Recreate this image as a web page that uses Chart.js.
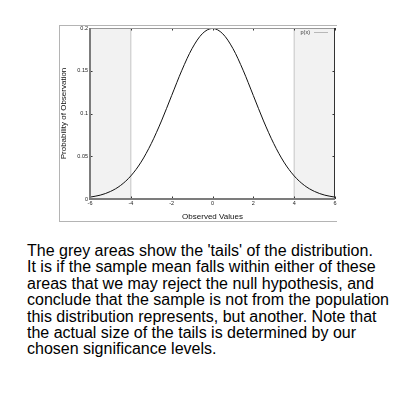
<!DOCTYPE html>
<html>
<head>
<meta charset="utf-8">
<script src="https://cdn.jsdelivr.net/npm/chart.js@4.4.1/dist/chart.umd.min.js"></script>
<style>
  body { margin: 0; background: #fff; width: 400px; height: 400px; overflow: hidden; position: relative; }
  #frame { position: absolute; left: 59px; top: 25px; width: 277px; height: 195px;
           border-left: 1px solid #b4b4b4; border-top: 1px solid #b4b4b4; border-bottom: 1px solid #b4b4b4; }
  #wrap { position: absolute; left: 0; top: 0; width: 400px; height: 230px; }
  #note { position: absolute; left: 27px; top: 243px; width: 373px; white-space: nowrap;
          font-family: "Liberation Sans", Arial, sans-serif; font-size: 16px; line-height: 16.4px; color: #000; }
</style>
</head>
<body>
<div id="frame"></div>
<div id="wrap"><canvas id="myChart"></canvas></div>
<div id="note">The grey areas show the 'tails' of the distribution.<br>It is if the sample mean falls within either of these<br>areas that we may reject the null hypothesis, and<br>conclude that the sample is not from the population<br>this distribution represents, but another. Note that<br>the actual size of the tails is determined by our<br>chosen significance levels.</div>
<script>
var xValues = [-6, -5.5, -5, -4.5, -4, -3.5, -3, -2.5, -2, -1.5, -1, -0.5, 0,
               0.5, 1, 1.5, 2, 2.5, 3, 3.5, 4, 4.5, 5, 5.5, 6];
var pValues = [0.0022, 0.0045, 0.0088, 0.0159, 0.0270, 0.0431, 0.0648, 0.0913, 0.1210, 0.1506, 0.1760, 0.1933, 0.1995,
               0.1933, 0.1760, 0.1506, 0.1210, 0.0913, 0.0648, 0.0431, 0.0270, 0.0159, 0.0088, 0.0045, 0.0022];

// tails (shaded)
var leftTail = [-6, -4];
var rightTail = [4, 6];

var xTicks = [-6, -4, -2, 0, 2, 4, 6];
var xTickLabels = ['-6', '-4', '-2', '0', '2', '4', '6'];
var yTicks = [0, 0.05, 0.1, 0.15, 0.2];
var yTickLabels = ['0', '0.05', '0.1', '0.15', '0.2'];

var yMax = 0.2;
var font = '"Liberation Sans", Arial, sans-serif';

function tailFill(t) {
	return t.map(function(v){ return {x: v, y: yMax}; });
}
function tailEdge(v) {
	return [{x: v, y: 0}, {x: v, y: yMax}];
}

// borders, inward tick marks, key
var framePlugin = {
	id: 'framePlugin',
	afterDatasetsDraw: function(chart) {
		var ctx = chart.ctx, a = chart.chartArea, x = chart.scales.x, y = chart.scales.y;
		ctx.save();
		ctx.lineWidth = 1;
		ctx.strokeStyle = '#333';
		ctx.beginPath();
		xTicks.forEach(function(v){
			var px = Math.round(x.getPixelForValue(v)) + 0.5;
			ctx.moveTo(px, a.bottom); ctx.lineTo(px, a.bottom - 2.5);
			ctx.moveTo(px, a.top); ctx.lineTo(px, a.top + 2.5);
		});
		yTicks.forEach(function(v){
			var py = Math.round(y.getPixelForValue(v)) + 0.5;
			ctx.moveTo(a.left, py); ctx.lineTo(a.left + 2.5, py);
			ctx.moveTo(a.right, py); ctx.lineTo(a.right - 2.5, py);
		});
		ctx.stroke();

		ctx.strokeStyle = '#999';
		ctx.beginPath(); ctx.moveTo(a.left, a.top + 0.5); ctx.lineTo(a.right, a.top + 0.5); ctx.stroke();
		ctx.strokeStyle = '#333';
		ctx.beginPath(); ctx.moveTo(a.right - 0.5, a.top); ctx.lineTo(a.right - 0.5, a.bottom); ctx.stroke();
		ctx.lineWidth = 2;
		ctx.strokeStyle = '#7c7c7c';
		ctx.beginPath(); ctx.moveTo(a.left, a.top); ctx.lineTo(a.left, a.bottom); ctx.lineTo(a.right, a.bottom); ctx.stroke();

		// key
		ctx.fillStyle = '#333';
		ctx.font = '5.5px ' + font;
		ctx.textAlign = 'right';
		ctx.textBaseline = 'middle';
		ctx.fillText('p(x)', a.right - 25, a.top + 4);
		ctx.lineWidth = 1;
		ctx.strokeStyle = '#b8b8b8';
		ctx.beginPath(); ctx.moveTo(a.right - 21, a.top + 4.5); ctx.lineTo(a.right - 7, a.top + 4.5); ctx.stroke();
		ctx.restore();
	}
};

var ctx = document.getElementById('myChart').getContext('2d');
var chart = new Chart(ctx, {
	type: 'line',
	data: {
		datasets: [{
			label: 'p(x)',
			data: xValues.map(function(v, i){ return {x: v, y: pValues[i]}; }),
			borderColor: '#111',
			borderWidth: 1,
			pointRadius: 0,
			cubicInterpolationMode: 'monotone',
			fill: false,
			order: 0
		}, {
			data: tailFill(leftTail),
			borderWidth: 0,
			pointRadius: 0,
			backgroundColor: '#f2f2f2',
			fill: 'origin',
			order: 3
		}, {
			data: tailFill(rightTail),
			borderWidth: 0,
			pointRadius: 0,
			backgroundColor: '#f2f2f2',
			fill: 'origin',
			order: 3
		}, {
			data: tailEdge(leftTail[1]),
			borderColor: '#c4c4c4',
			borderWidth: 1,
			pointRadius: 0,
			fill: false,
			order: 2
		}, {
			data: tailEdge(rightTail[0]),
			borderColor: '#c4c4c4',
			borderWidth: 1,
			pointRadius: 0,
			fill: false,
			order: 2
		}]
	},
	options: {
		responsive: true,
		maintainAspectRatio: false,
		animation: false,
		events: [],
		layout: { padding: { left: 59, top: 28, right: 65, bottom: 8.5 } },
		plugins: { legend: { display: false }, tooltip: { enabled: false } },
		scales: {
			x: {
				type: 'linear', min: -6, max: 6,
				afterBuildTicks: function(s){ s.ticks = xTicks.map(function(v){ return {value: v}; }); },
				afterFit: function(s){ s.height = 22.5; },
				grid: { display: false, drawTicks: false },
				border: { display: false },
				ticks: {
					padding: 1.5, maxRotation: 0, autoSkip: false, color: '#222',
					font: { family: font, size: 5.5 },
					callback: function(v){ return xTickLabels[xTicks.indexOf(v)]; }
				},
				title: { display: true, text: 'Observed Values', color: '#111', padding: 0,
					font: { family: font, size: 8 } }
			},
			y: {
				min: 0, max: yMax,
				afterBuildTicks: function(s){ s.ticks = yTicks.map(function(v){ return {value: v}; }); },
				afterFit: function(s){ s.width = 31; },
				grid: { display: false, drawTicks: false },
				border: { display: false },
				ticks: {
					padding: 2, autoSkip: false, color: '#222',
					font: { family: font, size: 5.5 },
					callback: function(v){ return yTickLabels[yTicks.indexOf(v)]; }
				},
				title: { display: true, text: 'Probability of Observation', color: '#111', padding: 0,
					font: { family: font, size: 8 } }
			}
		}
	},
	plugins: [framePlugin]
});
</script>
</body>
</html>
